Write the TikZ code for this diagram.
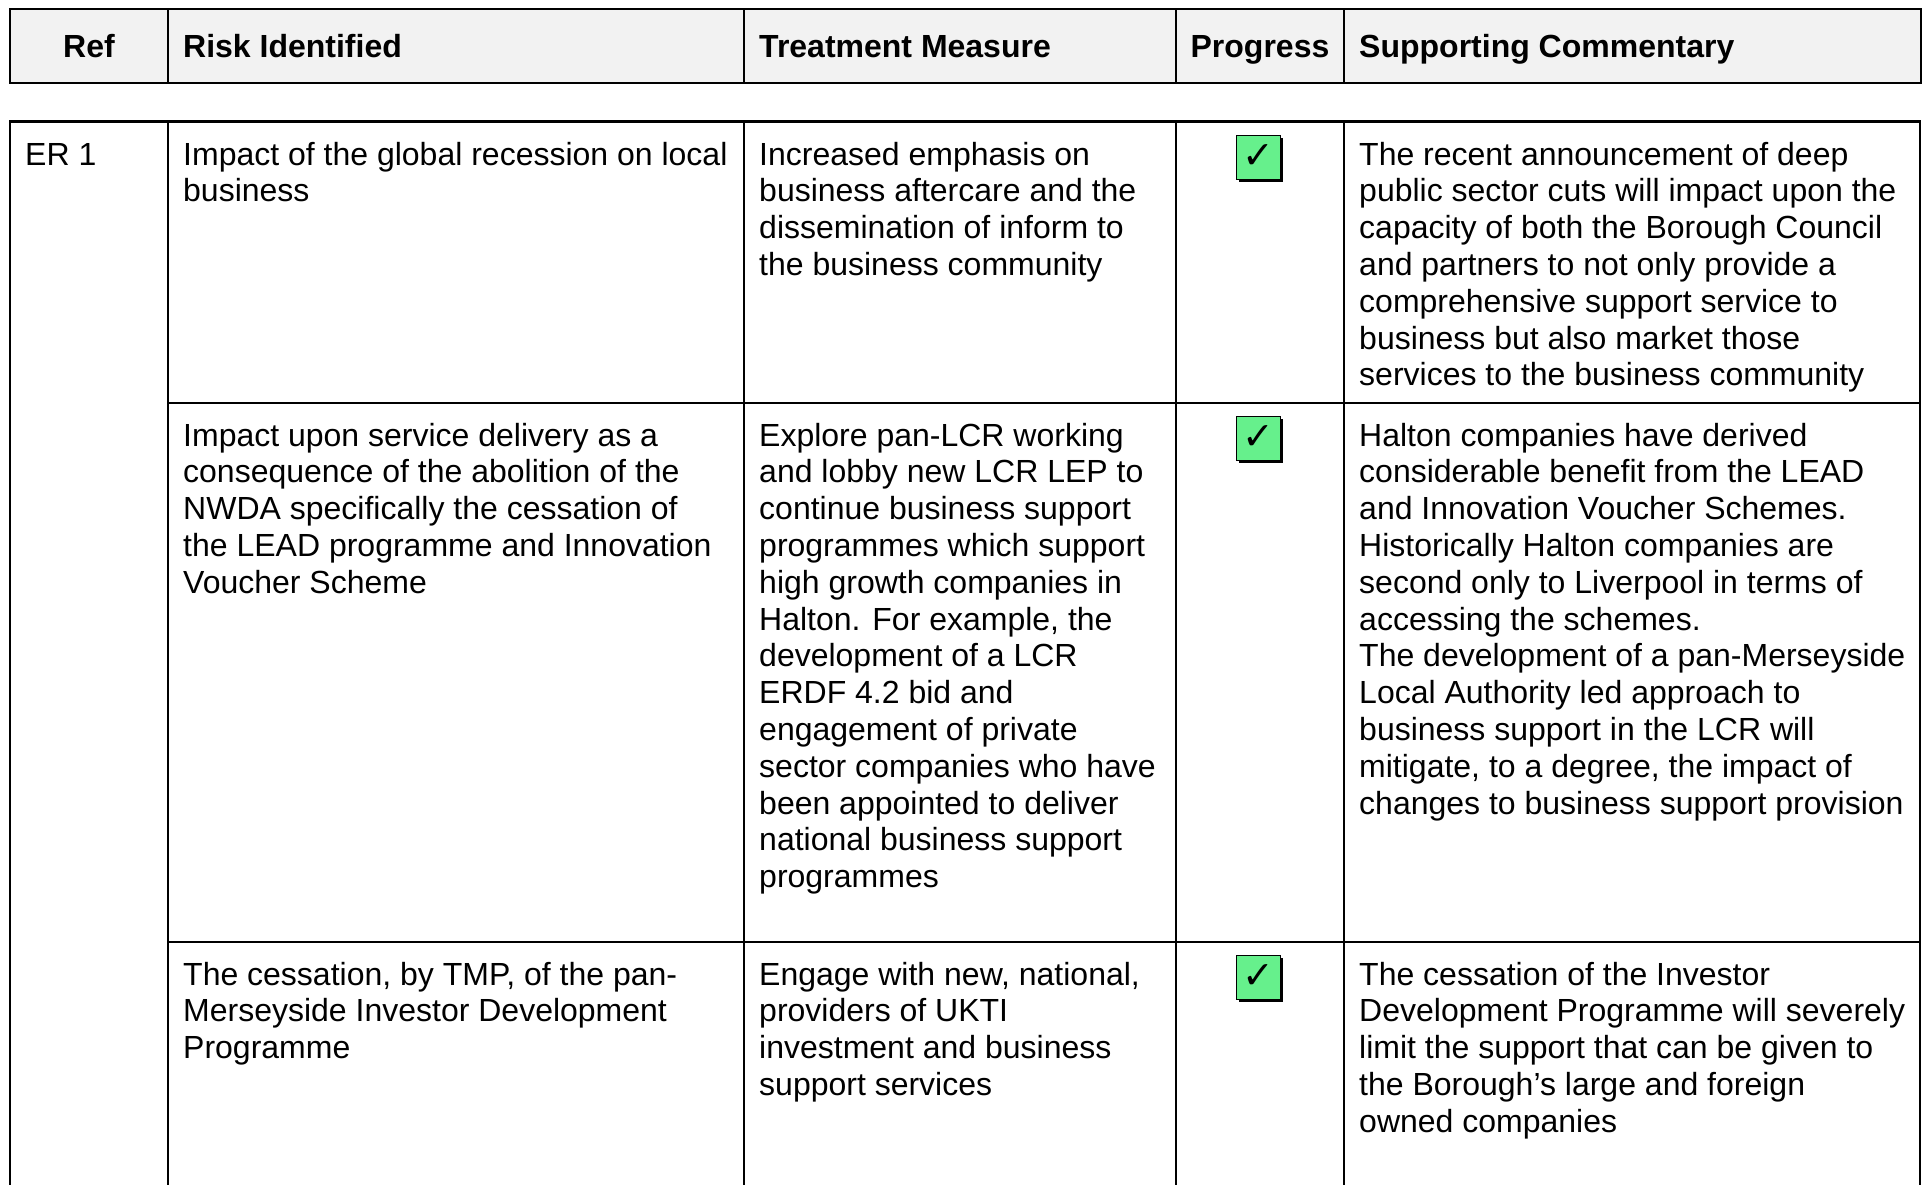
\documentclass[tikz,border=0pt]{standalone}
\usepackage{fontspec}
\setmainfont{Liberation Sans}
\newfontfamily\symfont{DejaVu Sans}
\usetikzlibrary{shadows}
\definecolor{hdrgray}{RGB}{242,242,242}
\definecolor{tickgreen}{RGB}{102,240,140}
\newcommand{\celltext}[1]{\begin{tabular}[t]{@{}l@{}}#1\end{tabular}}
\begin{document}
\begin{tikzpicture}[x=1pt,y=-1pt,
  rule/.style={line width=2.2pt},
  bodytext/.style={anchor=base west, inner sep=0pt, font=\fontsize{32}{36.8}\selectfont},
  headtext/.style={anchor=base west, inner sep=0pt, font=\fontsize{32}{36.8}\selectfont\bfseries},
  headmid/.style={anchor=base, inner sep=0pt, font=\fontsize{32}{36.8}\selectfont\bfseries},
  tickbox/.style={draw=black, line width=1pt, fill=tickgreen, minimum width=44pt, minimum height=44pt, inner sep=0pt,
     drop shadow={shadow xshift=3pt, shadow yshift=-3pt, fill=black, opacity=1},
     font=\symfont\fontsize{38}{40}\selectfont}]
\useasboundingbox (0,0) rectangle (1925,1184);
% header
\draw[rule, fill=hdrgray] (10,9) rectangle (1921,83);
\foreach \xx in {168,744,1176,1344} \draw[rule] (\xx,9) -- (\xx,83);
\node[headmid] (hRef) at (89,57) {Ref};
\node[headtext] (hRisk) at (183,57) {Risk Identified};
\node[headtext] (hTreat) at (759,57) {Treatment Measure};
\node[headmid] (hProg) at (1260,57) {Progress};
\node[headtext] (hComm) at (1359,57) {Supporting Commentary};
% body grid
\draw[rule] (10,1186) -- (10,121.5) -- (1920,121.5) -- (1920,1186);
\foreach \xx in {168,744,1176,1344} \draw[rule] (\xx,121.5) -- (\xx,1186);
\draw[rule] (168,403) -- (1920,403);
\draw[rule] (168,942) -- (1920,942);
% row 1
\node[bodytext] (ref1) at (25,165) {ER 1};
\node[bodytext] (risk1) at (183,165) {\celltext{Impact of the global recession on local\\business}};
\node[bodytext] (treat1) at (759,165) {\celltext{Increased emphasis on\\business aftercare and the\\dissemination of inform to\\the business community}};
\node[tickbox] (tick1) at (1258,157) {✓};
\node[bodytext] (comm1) at (1359,165) {\celltext{The recent announcement of deep\\public sector cuts will impact upon the\\capacity of both the Borough Council\\and partners to not only provide a\\comprehensive support service to\\business but also market those\\services to the business community}};
% row 2
\node[bodytext] (risk2) at (183,446) {\celltext{Impact upon service delivery as a\\consequence of the abolition of the\\NWDA specifically the cessation of\\the LEAD programme and Innovation\\Voucher Scheme}};
\node[bodytext] (treat2) at (759,446) {\celltext{Explore pan-LCR working\\and lobby new LCR LEP to\\continue business support\\programmes which support\\high growth companies in\\Halton. For example, the\\development of a LCR\\ERDF 4.2 bid and\\engagement of private\\sector companies who have\\been appointed to deliver\\national business support\\programmes}};
\node[tickbox] (tick2) at (1258,438) {✓};
\node[bodytext] (comm2) at (1359,446) {\celltext{Halton companies have derived\\considerable benefit from the LEAD\\and Innovation Voucher Schemes.\\Historically Halton companies are\\second only to Liverpool in terms of\\accessing the schemes.\\The development of a pan-Merseyside\\Local Authority led approach to\\business support in the LCR will\\mitigate, to a degree, the impact of\\changes to business support provision}};
% row 3
\node[bodytext] (risk3) at (183,985) {\celltext{The cessation, by TMP, of the pan-\\Merseyside Investor Development\\Programme}};
\node[bodytext] (treat3) at (759,985) {\celltext{Engage with new, national,\\providers of UKTI\\investment and business\\support services}};
\node[tickbox] (tick3) at (1258,977) {✓};
\node[bodytext] (comm3) at (1359,985) {\celltext{The cessation of the Investor\\Development Programme will severely\\limit the support that can be given to\\the Borough’s large and foreign\\owned companies}};
\end{tikzpicture}
\end{document}
